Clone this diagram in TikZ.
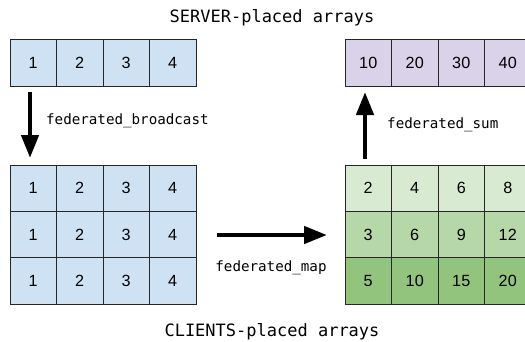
\documentclass[tikz,border=0pt]{standalone}
\usepackage{fontspec}
\setmainfont{Liberation Sans}
\newfontfamily\monof{DejaVu Sans Mono}
\usetikzlibrary{arrows.meta}
\definecolor{cblue}{HTML}{CFE2F3}
\definecolor{cpurple}{HTML}{D9D2E9}
\definecolor{cgreenA}{HTML}{D9EAD3}
\definecolor{cgreenB}{HTML}{B6D7A8}
\definecolor{cgreenC}{HTML}{93C47D}
\tikzset{
  cell/.style={draw=black!85, line width=0.8pt, minimum width=46.5pt, minimum height=46.33pt,
    inner sep=0pt, outer sep=0pt, text height=11.6pt, text depth=0pt,
    font=\fontsize{16.2}{16.2}\selectfont},
  bigarrow/.style={line width=4.5pt, -{Triangle[length=23pt,width=17pt]}},
  oplabel/.style={font=\monof\fontsize{14.2}{14.2}\selectfont, inner sep=0pt},
  titlelabel/.style={font=\monof\fontsize{17}{17}\selectfont, inner sep=0pt}
}
\begin{document}
\begin{tikzpicture}[x=1pt,y=-1pt]
\useasboundingbox (0,0) rectangle (525,341);
\clip (0,0) rectangle (525,341);
\fill[white] (0,0) rectangle (525,341);
% titles
\node[titlelabel] (ttop) at (272,18) {SERVER-placed arrays};
\node[titlelabel] (tbot) at (272,332) {CLIENTS-placed arrays};
% server array (left)
\foreach \v [count=\i] in {1,2,3,4}
  \node[cell, fill=cblue] (s\i) at ({10+46.5*(\i-0.5)},63) {\v};
% client grid (left)
\foreach \r in {1,2,3}
  \foreach \v [count=\i] in {1,2,3,4}
    \node[cell, fill=cblue] (c\r\i) at ({10+46.5*(\i-0.5)},{165+46.33*(\r-0.5)}) {\v};
% server array (right)
\foreach \v [count=\i] in {10,20,30,40}
  \node[cell, fill=cpurple] (t\i) at ({345+46.5*(\i-0.5)},63) {\v};
% client grid (right)
\foreach \v [count=\i] in {2,4,6,8}
  \node[cell, fill=cgreenA] (d1\i) at ({345+46.5*(\i-0.5)},{165+46.33*0.5}) {\v};
\foreach \v [count=\i] in {3,6,9,12}
  \node[cell, fill=cgreenB] (d2\i) at ({345+46.5*(\i-0.5)},{165+46.33*1.5}) {\v};
\foreach \v [count=\i] in {5,10,15,20}
  \node[cell, fill=cgreenC] (d3\i) at ({345+46.5*(\i-0.5)},{165+46.33*2.5}) {\v};
% arrow endpoints
\coordinate (bcA) at (30,92);
\coordinate (bcB) at (30,158);
\coordinate (smA) at (365,159);
\coordinate (smB) at (365,92);
\coordinate (mpA) at (217,235);
\coordinate (mpB) at (327,235);
% arrows
\draw[bigarrow] (bcA) -- (bcB);
\draw[bigarrow] (smA) -- (smB);
\draw[bigarrow] (mpA) -- (mpB);
% labels
\node[oplabel, anchor=west] (lbc) at (46,121) {federated\_broadcast};
\node[oplabel, anchor=west] (lsm) at (387,125) {federated\_sum};
\node[oplabel] (lmp) at (271,268) {federated\_map};
\end{tikzpicture}
\end{document}
